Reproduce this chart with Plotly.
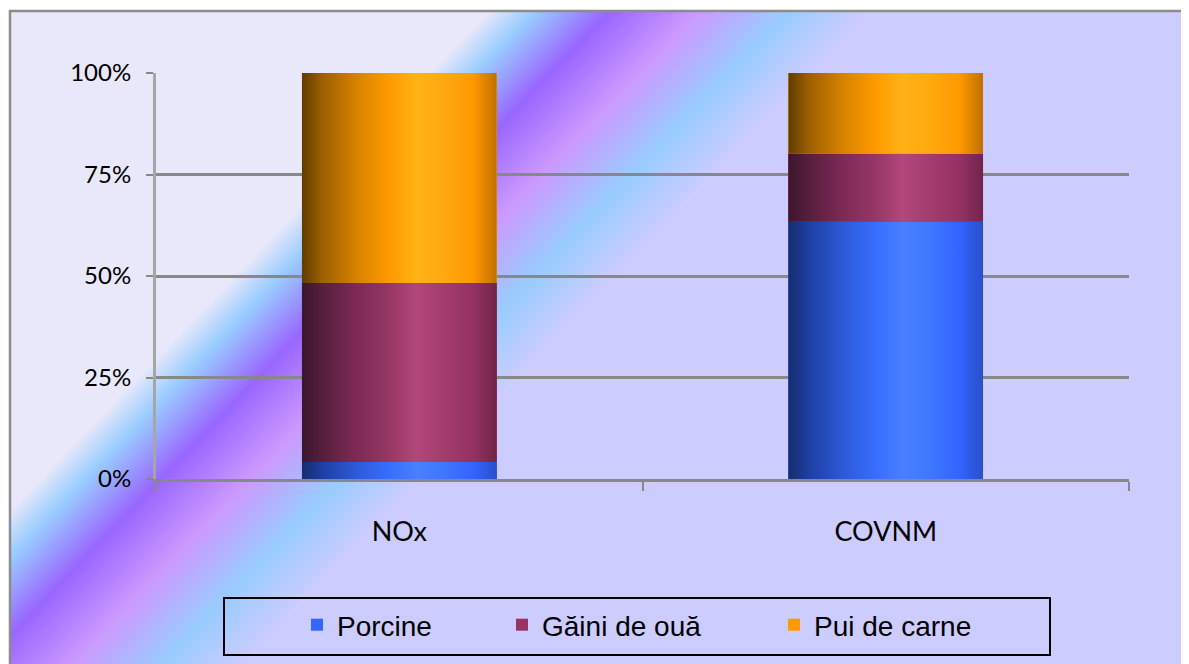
import base64
import plotly.graph_objects as go

# Date
categorii = ['NOx', 'COVNM']
serii = ['Porcine', 'Găini de ouă', 'Pui de carne']
porcine = [4.2, 63.4]
gaini_oua = [44.1, 16.7]
pui_carne = [51.7, 19.9]
y_ticks = [0, 25, 50, 75, 100]
y_text = ['0%', '25%', '50%', '75%', '100%']

valori = [porcine, gaini_oua, pui_carne]
culori = ['#3366FF', '#993366', '#FF9900']

# umbrire "cilindru" pe orizontala
umbre = [
    [[0, '#162d6e'], [0.1, '#1e3ea0'], [0.28, '#2d5ad7'], [0.45, '#376eff'],
     [0.59, '#4880ff'], [0.72, '#3e78ff'], [0.88, '#3264ff'], [1, '#2850c8']],
    [[0, '#3c162d'], [0.1, '#551e3c'], [0.28, '#7d2a55'], [0.45, '#963764'],
     [0.59, '#b2487a'], [0.72, '#a53c6e'], [0.88, '#943262'], [1, '#72244a']],
    [[0, '#5f3c00'], [0.1, '#9a5f00'], [0.28, '#d78200'], [0.45, '#ff9b00'],
     [0.59, '#ffb214'], [0.72, '#ffaa0f'], [0.88, '#ff9900'], [1, '#c07000']],
]

# pagina are margine de 8px in browser
OFF = 8
W, H = 1189 - OFF, 664 - OFF
ml, mt = 156 - OFF, 73 - OFF
mr, mb = 60, 185
pw, ph = W - ml - mr, H - mt - mb


def px_x(v):
    return (v - ml - OFF) / pw


def px_y(v):
    return (H + OFF - mb - v) / ph


# fundal cu dunga diagonala
svg = f'''<svg xmlns="http://www.w3.org/2000/svg" width="{W}" height="{H}" viewBox="0 0 {W} {H}" preserveAspectRatio="none">
<defs><linearGradient id="g" gradientUnits="userSpaceOnUse" x1="0" y1="0" x2="1000" y2="960">
<stop offset="0" stop-color="#e8e8fa"/><stop offset="0.26" stop-color="#e8e8fa"/>
<stop offset="0.284" stop-color="#99ccff"/><stop offset="0.323" stop-color="#9966ff"/>
<stop offset="0.369" stop-color="#cc99ff"/><stop offset="0.416" stop-color="#99ccff"/>
<stop offset="0.458" stop-color="#ccccff"/><stop offset="1" stop-color="#ccccff"/>
</linearGradient></defs>
<g transform="translate(-{OFF},-{OFF})">
<rect width="1300" height="800" fill="#ffffff"/>
<rect x="10" y="11" width="1250" height="750" fill="url(#g)" stroke="#8c8c8c" stroke-width="2.5"/>
</g>
</svg>'''
src = 'data:image/svg+xml;base64,' + base64.b64encode(svg.encode('utf-8')).decode()

fig = go.Figure()
legende = ['legend', 'legend2', 'legend3']
latime = 0.4
for i, nume in enumerate(serii):
    fig.add_trace(go.Bar(name=nume, x=categorii, y=valori[i], width=latime,
                         marker=dict(color=culori[i], line=dict(width=0)),
                         legend=legende[i], hoverinfo='skip'))

# straturi cu gradient peste bare
baza = [0] * len(categorii)
for i in range(len(serii)):
    for j in range(len(categorii)):
        x0, x1 = j - latime / 2, j + latime / 2
        y0, y1 = baza[j], baza[j] + valori[i][j]
        fig.add_trace(go.Scatter(x=[x0, x1, x1, x0, x0], y=[y0, y0, y1, y1, y0],
                                 xaxis='x2', mode='none', fill='toself',
                                 fillgradient=dict(type='horizontal', colorscale=umbre[i]),
                                 showlegend=False, hoverinfo='skip'))
        baza[j] = y1

leg_font = dict(family='Liberation Sans', size=28, color='black')
leg_y = px_y(625)
fig.update_layout(
    width=W, height=H, barmode='stack',
    margin=dict(l=ml, r=mr, t=mt, b=mb),
    paper_bgcolor='white', plot_bgcolor='rgba(0,0,0,0)',
    images=[dict(source=src, xref='paper', yref='paper', x=-ml / pw, y=1 + mt / ph,
                 sizex=W / pw, sizey=H / ph, sizing='stretch', xanchor='left',
                 yanchor='top', layer='below')],
    xaxis=dict(type='category', tickson='boundaries', ticks='outside', ticklen=9,
               tickwidth=2, tickcolor='#888888', showline=True, linecolor='#888888',
               linewidth=2.5, showgrid=False, ticklabelstandoff=27,
               tickfont=dict(family='Lato', size=27, color='black')),
    xaxis2=dict(overlaying='x', range=[-0.5, 1.5], visible=False),
    yaxis=dict(range=[0, 100], tickmode='array', tickvals=y_ticks, ticktext=y_text,
               ticks='outside', ticklen=7, tickwidth=2, tickcolor='#888888',
               showline=True, linecolor='#a6a6a6', linewidth=3, gridcolor='#888888',
               gridwidth=2.5, zeroline=False, ticklabelstandoff=10,
               tickfont=dict(family='Lato', size=24, color='black')),
    shapes=[dict(type='rect', xref='paper', yref='paper', x0=px_x(224), x1=px_x(1050),
                 y0=px_y(598), y1=px_y(655), line=dict(color='black', width=2))],
    legend=dict(x=px_x(297), y=leg_y, xanchor='left', yanchor='middle',
                bgcolor='rgba(0,0,0,0)', font=leg_font),
    legend2=dict(x=px_x(502), y=leg_y, xanchor='left', yanchor='middle',
                 bgcolor='rgba(0,0,0,0)', font=leg_font),
    legend3=dict(x=px_x(774), y=leg_y, xanchor='left', yanchor='middle',
                 bgcolor='rgba(0,0,0,0)', font=leg_font),
)

fig.write_html("out.html")
